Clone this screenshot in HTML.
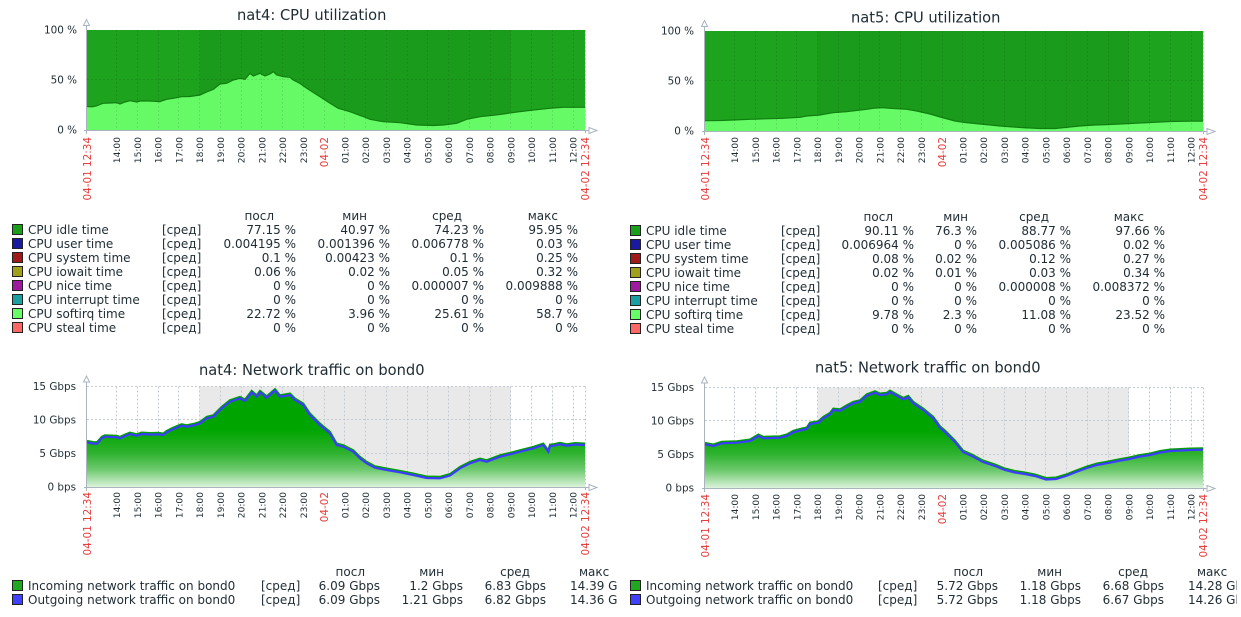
<!DOCTYPE html>
<html><head><meta charset="utf-8">
<style>
html,body{margin:0;padding:0;background:#fff;}
body{width:1241px;height:617px;overflow:hidden;}
svg{display:block;}
text{font-family:"DejaVu Sans","Liberation Sans",sans-serif;fill:#1f2c33;}
.t{font-size:14.67px;}
.yl{font-size:10.4px;text-anchor:end;}
.xl{font-size:9.1px;text-anchor:end;}
.xr{font-size:10.4px;text-anchor:end;fill:#e53e3e;}
.lg{font-size:12px;}
.r{text-anchor:end;}
.grid{fill:none;stroke:#c3cad1;stroke-width:1;stroke-dasharray:2,2;shape-rendering:crispEdges;}
.cgrid{fill:none;stroke:#000;stroke-opacity:0.1;stroke-width:1;stroke-dasharray:2,2;shape-rendering:crispEdges;}
.ax{fill:none;stroke:#a9b4bf;stroke-width:1;shape-rendering:crispEdges;}
.arr{fill:#fff;stroke:#a9b4bf;stroke-width:1;}
.sq{stroke:#222;stroke-width:1;shape-rendering:crispEdges;}
</style></head>
<body>
<svg width="1241" height="617" viewBox="0 0 1241 617" xmlns="http://www.w3.org/2000/svg">
<defs>
<clipPath id="cl"><rect x="0" y="0" width="618" height="617"/></clipPath>
<clipPath id="cr"><rect x="618" y="0" width="619" height="617"/></clipPath>
<linearGradient id="g4" gradientUnits="userSpaceOnUse" x1="0" y1="387" x2="0" y2="487">
<stop offset="0" stop-color="#00a300"/><stop offset="0.43" stop-color="#00a500"/><stop offset="0.66" stop-color="#2eb22e"/><stop offset="0.83" stop-color="#70ca70"/><stop offset="1" stop-color="#dcf3dc"/>
</linearGradient>
<linearGradient id="g5" gradientUnits="userSpaceOnUse" x1="0" y1="388" x2="0" y2="488">
<stop offset="0" stop-color="#00a300"/><stop offset="0.43" stop-color="#00a500"/><stop offset="0.66" stop-color="#2eb22e"/><stop offset="0.83" stop-color="#70ca70"/><stop offset="1" stop-color="#dcf3dc"/>
</linearGradient>
</defs>

<!-- ================= nat4 CPU ================= -->
<text class="t" x="237" y="20">nat4: CPU utilization</text>
<g transform="translate(87,130)">
<rect x="0" y="-100" width="498" height="100" fill="#1ea31e"/>
<rect x="112.74" y="-100" width="311.25" height="100" fill="#1b9b1b"/>
</g>
<polygon fill="#66fb66" points="87,130 87,106.5 92,106.8 96,106 100,104.5 103,103.3 110,103 116.7,102.7 120,104 125,102 130,100.7 136.7,102 140,101 150,101 160,101.7 163,100.5 166.7,99.3 173.3,98.3 181.7,96.7 190,96.5 200,95 206.7,92 213.3,89.3 220,84 226.7,83.3 233.3,80 240,78.3 245,79.3 250,73.3 253.3,76 260,73.3 265,76 270,74 273.3,71.7 276.7,75 283.3,76.7 290,77.3 293.3,80 300,83.5 306.7,88.3 313.3,92.5 320,96.7 330,103.3 338.3,108.3 350,111.7 361.7,116 370,119.3 383.3,121.7 400,122.7 416.7,125 433.3,125.5 443.3,125 456.7,123.3 466.7,119.3 480,116.7 493.3,115.3 503.3,114 516.7,112 533.3,110 550,108.3 563.3,107.3 573.3,107.3 585,107.3 585,130"/>
<polyline fill="none" stroke="#0f7f0f" stroke-width="1.2" points="87,106.5 92,106.8 96,106 100,104.5 103,103.3 110,103 116.7,102.7 120,104 125,102 130,100.7 136.7,102 140,101 150,101 160,101.7 163,100.5 166.7,99.3 173.3,98.3 181.7,96.7 190,96.5 200,95 206.7,92 213.3,89.3 220,84 226.7,83.3 233.3,80 240,78.3 245,79.3 250,73.3 253.3,76 260,73.3 265,76 270,74 273.3,71.7 276.7,75 283.3,76.7 290,77.3 293.3,80 300,83.5 306.7,88.3 313.3,92.5 320,96.7 330,103.3 338.3,108.3 350,111.7 361.7,116 370,119.3 383.3,121.7 400,122.7 416.7,125 433.3,125.5 443.3,125 456.7,123.3 466.7,119.3 480,116.7 493.3,115.3 503.3,114 516.7,112 533.3,110 550,108.3 563.3,107.3 573.3,107.3 585,107.3"/>
<g transform="translate(87,130)">
<path class="cgrid" d="M29.5,-100V0M50.5,-100V0M71.5,-100V0M91.5,-100V0M112.5,-100V0M133.5,-100V0M154.5,-100V0M174.5,-100V0M195.5,-100V0M216.5,-100V0M237.5,-100V0M257.5,-100V0M278.5,-100V0M299.5,-100V0M320.5,-100V0M340.5,-100V0M361.5,-100V0M382.5,-100V0M403.5,-100V0M423.5,-100V0M444.5,-100V0M465.5,-100V0M486.5,-100V0M0,-50.5H498"/>
<path class="grid" d="M498.5,-100V0"/>
<path class="ax" d="M-0.5,-105V4M-3,0.5H502M498.5,0V3"/>
<polygon class="arr" points="-3.5,-104.5 -0.5,-110.5 2.5,-104.5"/>
<polygon class="arr" points="502,-2.5 510,0.5 502,3.5"/>
</g>
<text class="yl" x="77" y="33.5">100 %</text>
<text class="yl" x="77" y="83.5">50 %</text>
<text class="yl" x="77" y="133.5">0 %</text>
<text class="xr" transform="translate(90.8,137) rotate(-90)">04-01 12:34</text>
<text class="xl" transform="translate(120.2,137) rotate(-90)">14:00</text>
<text class="xl" transform="translate(141,137) rotate(-90)">15:00</text>
<text class="xl" transform="translate(161.7,137) rotate(-90)">16:00</text>
<text class="xl" transform="translate(182.5,137) rotate(-90)">17:00</text>
<text class="xl" transform="translate(203.2,137) rotate(-90)">18:00</text>
<text class="xl" transform="translate(224,137) rotate(-90)">19:00</text>
<text class="xl" transform="translate(244.7,137) rotate(-90)">20:00</text>
<text class="xl" transform="translate(265.5,137) rotate(-90)">21:00</text>
<text class="xl" transform="translate(286.2,137) rotate(-90)">22:00</text>
<text class="xl" transform="translate(307,137) rotate(-90)">23:00</text>
<text class="xr" transform="translate(328,137) rotate(-90)">04-02</text>
<text class="xl" transform="translate(348.5,137) rotate(-90)">01:00</text>
<text class="xl" transform="translate(369.2,137) rotate(-90)">02:00</text>
<text class="xl" transform="translate(390,137) rotate(-90)">03:00</text>
<text class="xl" transform="translate(410.7,137) rotate(-90)">04:00</text>
<text class="xl" transform="translate(431.5,137) rotate(-90)">05:00</text>
<text class="xl" transform="translate(452.2,137) rotate(-90)">06:00</text>
<text class="xl" transform="translate(473,137) rotate(-90)">07:00</text>
<text class="xl" transform="translate(493.7,137) rotate(-90)">08:00</text>
<text class="xl" transform="translate(514.5,137) rotate(-90)">09:00</text>
<text class="xl" transform="translate(535.2,137) rotate(-90)">10:00</text>
<text class="xl" transform="translate(556,137) rotate(-90)">11:00</text>
<text class="xl" transform="translate(576.7,137) rotate(-90)">12:00</text>
<text class="xr" transform="translate(588.8,137) rotate(-90)">04-02 12:34</text>

<!-- nat4 CPU legend -->
<g class="lg">
<text class="lg r" x="274" y="220">посл</text>
<text class="lg r" x="367" y="220">мин</text>
<text class="lg r" x="462" y="220">сред</text>
<text class="lg r" x="558" y="220">макс</text>

<rect class="sq" x="12.5" y="224.5" width="10" height="10" fill="#1a9f1a"/>
<text class="lg" x="28" y="234">CPU idle time</text><text class="lg" x="162" y="234">[сред]</text>
<text class="lg r" x="296" y="234">77.15 %</text><text class="lg r" x="390" y="234">40.97 %</text><text class="lg r" x="484" y="234">74.23 %</text><text class="lg r" x="578" y="234">95.95 %</text>

<rect class="sq" x="12.5" y="238.5" width="10" height="10" fill="#1a1aa0"/>
<text class="lg" x="28" y="248">CPU user time</text><text class="lg" x="162" y="248">[сред]</text>
<text class="lg r" x="296" y="248">0.004195 %</text><text class="lg r" x="390" y="248">0.001396 %</text><text class="lg r" x="484" y="248">0.006778 %</text><text class="lg r" x="578" y="248">0.03 %</text>

<rect class="sq" x="12.5" y="252.5" width="10" height="10" fill="#a01a1a"/>
<text class="lg" x="28" y="262">CPU system time</text><text class="lg" x="162" y="262">[сред]</text>
<text class="lg r" x="296" y="262">0.1 %</text><text class="lg r" x="390" y="262">0.00423 %</text><text class="lg r" x="484" y="262">0.1 %</text><text class="lg r" x="578" y="262">0.25 %</text>

<rect class="sq" x="12.5" y="266.5" width="10" height="10" fill="#a0a01a"/>
<text class="lg" x="28" y="276">CPU iowait time</text><text class="lg" x="162" y="276">[сред]</text>
<text class="lg r" x="296" y="276">0.06 %</text><text class="lg r" x="390" y="276">0.02 %</text><text class="lg r" x="484" y="276">0.05 %</text><text class="lg r" x="578" y="276">0.32 %</text>

<rect class="sq" x="12.5" y="280.5" width="10" height="10" fill="#a01aa0"/>
<text class="lg" x="28" y="290">CPU nice time</text><text class="lg" x="162" y="290">[сред]</text>
<text class="lg r" x="296" y="290">0 %</text><text class="lg r" x="390" y="290">0 %</text><text class="lg r" x="484" y="290">0.000007 %</text><text class="lg r" x="578" y="290">0.009888 %</text>

<rect class="sq" x="12.5" y="294.5" width="10" height="10" fill="#1aa0a0"/>
<text class="lg" x="28" y="304">CPU interrupt time</text><text class="lg" x="162" y="304">[сред]</text>
<text class="lg r" x="296" y="304">0 %</text><text class="lg r" x="390" y="304">0 %</text><text class="lg r" x="484" y="304">0 %</text><text class="lg r" x="578" y="304">0 %</text>

<rect class="sq" x="12.5" y="308.5" width="10" height="10" fill="#66ff66"/>
<text class="lg" x="28" y="318">CPU softirq time</text><text class="lg" x="162" y="318">[сред]</text>
<text class="lg r" x="296" y="318">22.72 %</text><text class="lg r" x="390" y="318">3.96 %</text><text class="lg r" x="484" y="318">25.61 %</text><text class="lg r" x="578" y="318">58.7 %</text>

<rect class="sq" x="12.5" y="322.5" width="10" height="10" fill="#ff6666"/>
<text class="lg" x="28" y="332">CPU steal time</text><text class="lg" x="162" y="332">[сред]</text>
<text class="lg r" x="296" y="332">0 %</text><text class="lg r" x="390" y="332">0 %</text><text class="lg r" x="484" y="332">0 %</text><text class="lg r" x="578" y="332">0 %</text>
</g>

<!-- ================= nat5 CPU ================= -->
<text class="t" x="851" y="22.5">nat5: CPU utilization</text>
<g transform="translate(705,131)">
<rect x="0" y="-100" width="498" height="100" fill="#1ea31e"/>
<rect x="112.74" y="-100" width="311.25" height="100" fill="#1b9b1b"/>
</g>
<polygon fill="#66fb66" points="705,131 705,120.7 720,120.5 733,120 750,119.3 783,118.3 800,117.3 806.7,116 820,115 833,112.7 846.7,111.7 866.7,109.3 873,108.3 882,107.7 890,108.3 906.7,109.3 916.7,111 930,114 942,117.5 955,121 965,122.5 980,124 1000,126 1020,127.5 1040,128.5 1055,128.5 1065,127.5 1080,126 1095,125 1110,124.5 1130,123.5 1150,122.5 1170,121.5 1190,121.2 1203,121.2 1203,131"/>
<polyline fill="none" stroke="#0f7f0f" stroke-width="1.2" points="705,120.7 720,120.5 733,120 750,119.3 783,118.3 800,117.3 806.7,116 820,115 833,112.7 846.7,111.7 866.7,109.3 873,108.3 882,107.7 890,108.3 906.7,109.3 916.7,111 930,114 942,117.5 955,121 965,122.5 980,124 1000,126 1020,127.5 1040,128.5 1055,128.5 1065,127.5 1080,126 1095,125 1110,124.5 1130,123.5 1150,122.5 1170,121.5 1190,121.2 1203,121.2"/>
<g transform="translate(705,131)">
<path class="cgrid" d="M29.5,-100V0M50.5,-100V0M71.5,-100V0M91.5,-100V0M112.5,-100V0M133.5,-100V0M154.5,-100V0M174.5,-100V0M195.5,-100V0M216.5,-100V0M237.5,-100V0M257.5,-100V0M278.5,-100V0M299.5,-100V0M320.5,-100V0M340.5,-100V0M361.5,-100V0M382.5,-100V0M403.5,-100V0M423.5,-100V0M444.5,-100V0M465.5,-100V0M486.5,-100V0M0,-50.5H498"/>
<path class="grid" d="M498.5,-100V0"/>
<path class="ax" d="M-0.5,-105V4M-3,0.5H502M498.5,0V3"/>
<polygon class="arr" points="-3.5,-104.5 -0.5,-110.5 2.5,-104.5"/>
<polygon class="arr" points="502,-2.5 510,0.5 502,3.5"/>
</g>
<text class="yl" x="694" y="34.5">100 %</text>
<text class="yl" x="694" y="84.5">50 %</text>
<text class="yl" x="694" y="134.5">0 %</text>
<text class="xr" transform="translate(708.8,137) rotate(-90)">04-01 12:34</text>
<text class="xl" transform="translate(738.2,137) rotate(-90)">14:00</text>
<text class="xl" transform="translate(759,137) rotate(-90)">15:00</text>
<text class="xl" transform="translate(779.7,137) rotate(-90)">16:00</text>
<text class="xl" transform="translate(800.5,137) rotate(-90)">17:00</text>
<text class="xl" transform="translate(821.2,137) rotate(-90)">18:00</text>
<text class="xl" transform="translate(842,137) rotate(-90)">19:00</text>
<text class="xl" transform="translate(862.7,137) rotate(-90)">20:00</text>
<text class="xl" transform="translate(883.5,137) rotate(-90)">21:00</text>
<text class="xl" transform="translate(904.2,137) rotate(-90)">22:00</text>
<text class="xl" transform="translate(925,137) rotate(-90)">23:00</text>
<text class="xr" transform="translate(946,137) rotate(-90)">04-02</text>
<text class="xl" transform="translate(966.5,137) rotate(-90)">01:00</text>
<text class="xl" transform="translate(987.2,137) rotate(-90)">02:00</text>
<text class="xl" transform="translate(1008,137) rotate(-90)">03:00</text>
<text class="xl" transform="translate(1028.7,137) rotate(-90)">04:00</text>
<text class="xl" transform="translate(1049.5,137) rotate(-90)">05:00</text>
<text class="xl" transform="translate(1070.2,137) rotate(-90)">06:00</text>
<text class="xl" transform="translate(1091,137) rotate(-90)">07:00</text>
<text class="xl" transform="translate(1111.7,137) rotate(-90)">08:00</text>
<text class="xl" transform="translate(1132.5,137) rotate(-90)">09:00</text>
<text class="xl" transform="translate(1153.2,137) rotate(-90)">10:00</text>
<text class="xl" transform="translate(1174,137) rotate(-90)">11:00</text>
<text class="xl" transform="translate(1194.7,137) rotate(-90)">12:00</text>
<text class="xr" transform="translate(1206.8,137) rotate(-90)">04-02 12:34</text>

<!-- nat5 CPU legend -->
<g>
<text class="lg r" x="893" y="221">посл</text>
<text class="lg r" x="968" y="221">мин</text>
<text class="lg r" x="1049" y="221">сред</text>
<text class="lg r" x="1144" y="221">макс</text>

<rect class="sq" x="630.5" y="225.5" width="10" height="10" fill="#1a9f1a"/>
<text class="lg" x="646" y="235">CPU idle time</text><text class="lg" x="781" y="235">[сред]</text>
<text class="lg r" x="914" y="235">90.11 %</text><text class="lg r" x="977" y="235">76.3 %</text><text class="lg r" x="1071" y="235">88.77 %</text><text class="lg r" x="1165" y="235">97.66 %</text>

<rect class="sq" x="630.5" y="239.5" width="10" height="10" fill="#1a1aa0"/>
<text class="lg" x="646" y="249">CPU user time</text><text class="lg" x="781" y="249">[сред]</text>
<text class="lg r" x="914" y="249">0.006964 %</text><text class="lg r" x="977" y="249">0 %</text><text class="lg r" x="1071" y="249">0.005086 %</text><text class="lg r" x="1165" y="249">0.02 %</text>

<rect class="sq" x="630.5" y="253.5" width="10" height="10" fill="#a01a1a"/>
<text class="lg" x="646" y="263">CPU system time</text><text class="lg" x="781" y="263">[сред]</text>
<text class="lg r" x="914" y="263">0.08 %</text><text class="lg r" x="977" y="263">0.02 %</text><text class="lg r" x="1071" y="263">0.12 %</text><text class="lg r" x="1165" y="263">0.27 %</text>

<rect class="sq" x="630.5" y="267.5" width="10" height="10" fill="#a0a01a"/>
<text class="lg" x="646" y="277">CPU iowait time</text><text class="lg" x="781" y="277">[сред]</text>
<text class="lg r" x="914" y="277">0.02 %</text><text class="lg r" x="977" y="277">0.01 %</text><text class="lg r" x="1071" y="277">0.03 %</text><text class="lg r" x="1165" y="277">0.34 %</text>

<rect class="sq" x="630.5" y="281.5" width="10" height="10" fill="#a01aa0"/>
<text class="lg" x="646" y="291">CPU nice time</text><text class="lg" x="781" y="291">[сред]</text>
<text class="lg r" x="914" y="291">0 %</text><text class="lg r" x="977" y="291">0 %</text><text class="lg r" x="1071" y="291">0.000008 %</text><text class="lg r" x="1165" y="291">0.008372 %</text>

<rect class="sq" x="630.5" y="295.5" width="10" height="10" fill="#1aa0a0"/>
<text class="lg" x="646" y="305">CPU interrupt time</text><text class="lg" x="781" y="305">[сред]</text>
<text class="lg r" x="914" y="305">0 %</text><text class="lg r" x="977" y="305">0 %</text><text class="lg r" x="1071" y="305">0 %</text><text class="lg r" x="1165" y="305">0 %</text>

<rect class="sq" x="630.5" y="309.5" width="10" height="10" fill="#66ff66"/>
<text class="lg" x="646" y="319">CPU softirq time</text><text class="lg" x="781" y="319">[сред]</text>
<text class="lg r" x="914" y="319">9.78 %</text><text class="lg r" x="977" y="319">2.3 %</text><text class="lg r" x="1071" y="319">11.08 %</text><text class="lg r" x="1165" y="319">23.52 %</text>

<rect class="sq" x="630.5" y="323.5" width="10" height="10" fill="#ff6666"/>
<text class="lg" x="646" y="333">CPU steal time</text><text class="lg" x="781" y="333">[сред]</text>
<text class="lg r" x="914" y="333">0 %</text><text class="lg r" x="977" y="333">0 %</text><text class="lg r" x="1071" y="333">0 %</text><text class="lg r" x="1165" y="333">0 %</text>
</g>

<!-- ================= nat4 Network ================= -->
<text class="t" x="199" y="375">nat4: Network traffic on bond0</text>
<g transform="translate(87,487)">
<rect x="0" y="-100.5" width="498" height="100.5" fill="#fff"/>
<rect x="112.74" y="-100.5" width="311.25" height="100.5" fill="#e9e9e9"/>
<path class="grid" d="M29.5,-100.5V0M50.5,-100.5V0M71.5,-100.5V0M91.5,-100.5V0M112.5,-100.5V0M133.5,-100.5V0M154.5,-100.5V0M174.5,-100.5V0M195.5,-100.5V0M216.5,-100.5V0M237.5,-100.5V0M257.5,-100.5V0M278.5,-100.5V0M299.5,-100.5V0M320.5,-100.5V0M340.5,-100.5V0M361.5,-100.5V0M382.5,-100.5V0M403.5,-100.5V0M423.5,-100.5V0M444.5,-100.5V0M465.5,-100.5V0M486.5,-100.5V0M498.5,-100.5V0M0,-100.5H498M0,-67.5H498M0,-33.5H498"/>
</g>
<polygon fill="url(#g4)" points="87,487 87,442.3 93,443.5 97,443.7 101.7,438.3 105,436.7 116.7,437.3 120,438.3 125,436 130,434 136.7,435.7 141.7,434 150,434.5 158.3,434.3 163.3,435 166.7,432.3 173.3,429 181.7,425.7 186.7,426.7 195,425 200,423.3 206.7,418.3 213.3,416.7 221.7,408.3 230,401.7 240,398.3 245,401 251.7,392.3 256.7,396.7 260,392.3 266.7,397.7 275,390.5 280,396.7 290,395 295,400 303.3,405 310,415 320,425 330,433.3 336.7,445 343.3,446.7 353.3,451.7 360,458.3 366.7,463.3 375,467.7 386.7,470 400,472.3 413.3,475 426.7,478 440,478.3 450,475.5 460,468.3 470,463.3 480,460 486.7,461.7 500,456.7 510,454.3 520,451.7 533.3,448.3 543.3,445 548.3,451.7 550,446 553.3,445.7 560,444.3 566.7,445.7 575,444.5 585,445 585,487"/>
<polyline fill="none" stroke="#00a000" stroke-width="2" transform="translate(0,-1.5)" points="87,442.3 93,443.5 97,443.7 101.7,438.3 105,436.7 116.7,437.3 120,438.3 125,436 130,434 136.7,435.7 141.7,434 150,434.5 158.3,434.3 163.3,435 166.7,432.3 173.3,429 181.7,425.7 186.7,426.7 195,425 200,423.3 206.7,418.3 213.3,416.7 221.7,408.3 230,401.7 240,398.3 245,401 251.7,392.3 256.7,396.7 260,392.3 266.7,397.7 275,390.5 280,396.7 290,395 295,400 303.3,405 310,415 320,425 330,433.3 336.7,445 343.3,446.7 353.3,451.7 360,458.3 366.7,463.3 375,467.7 386.7,470 400,472.3 413.3,475 426.7,478 440,478.3 450,475.5 460,468.3 470,463.3 480,460 486.7,461.7 500,456.7 510,454.3 520,451.7 533.3,448.3 543.3,445 548.3,451.7 550,446 553.3,445.7 560,444.3 566.7,445.7 575,444.5 585,445"/>
<polyline fill="none" stroke="#3c3cff" stroke-width="2.2" points="87,442.3 93,443.5 97,443.7 101.7,438.3 105,436.7 116.7,437.3 120,438.3 125,436 130,434 136.7,435.7 141.7,434 150,434.5 158.3,434.3 163.3,435 166.7,432.3 173.3,429 181.7,425.7 186.7,426.7 195,425 200,423.3 206.7,418.3 213.3,416.7 221.7,408.3 230,401.7 240,398.3 245,401 251.7,392.3 256.7,396.7 260,392.3 266.7,397.7 275,390.5 280,396.7 290,395 295,400 303.3,405 310,415 320,425 330,433.3 336.7,445 343.3,446.7 353.3,451.7 360,458.3 366.7,463.3 375,467.7 386.7,470 400,472.3 413.3,475 426.7,478 440,478.3 450,475.5 460,468.3 470,463.3 480,460 486.7,461.7 500,456.7 510,454.3 520,451.7 533.3,448.3 543.3,445 548.3,451.7 550,446 553.3,445.7 560,444.3 566.7,445.7 575,444.5 585,445"/>
<g transform="translate(87,487)">
<path class="ax" d="M-0.5,-105V4M-3,0.5H502M498.5,0V3"/>
<polygon class="arr" points="-3.5,-105 -0.5,-111 2.5,-105"/>
<polygon class="arr" points="502,-2.5 510,0.5 502,3.5"/>
</g>
<text class="yl" x="76" y="390">15 Gbps</text>
<text class="yl" x="76" y="423.5">10 Gbps</text>
<text class="yl" x="76" y="457">5 Gbps</text>
<text class="yl" x="76" y="490.5">0 bps</text>
<text class="xr" transform="translate(90.8,492) rotate(-90)">04-01 12:34</text>
<text class="xl" transform="translate(120.2,492) rotate(-90)">14:00</text>
<text class="xl" transform="translate(141,492) rotate(-90)">15:00</text>
<text class="xl" transform="translate(161.7,492) rotate(-90)">16:00</text>
<text class="xl" transform="translate(182.5,492) rotate(-90)">17:00</text>
<text class="xl" transform="translate(203.2,492) rotate(-90)">18:00</text>
<text class="xl" transform="translate(224,492) rotate(-90)">19:00</text>
<text class="xl" transform="translate(244.7,492) rotate(-90)">20:00</text>
<text class="xl" transform="translate(265.5,492) rotate(-90)">21:00</text>
<text class="xl" transform="translate(286.2,492) rotate(-90)">22:00</text>
<text class="xl" transform="translate(307,492) rotate(-90)">23:00</text>
<text class="xr" transform="translate(328,492) rotate(-90)">04-02</text>
<text class="xl" transform="translate(348.5,492) rotate(-90)">01:00</text>
<text class="xl" transform="translate(369.2,492) rotate(-90)">02:00</text>
<text class="xl" transform="translate(390,492) rotate(-90)">03:00</text>
<text class="xl" transform="translate(410.7,492) rotate(-90)">04:00</text>
<text class="xl" transform="translate(431.5,492) rotate(-90)">05:00</text>
<text class="xl" transform="translate(452.2,492) rotate(-90)">06:00</text>
<text class="xl" transform="translate(473,492) rotate(-90)">07:00</text>
<text class="xl" transform="translate(493.7,492) rotate(-90)">08:00</text>
<text class="xl" transform="translate(514.5,492) rotate(-90)">09:00</text>
<text class="xl" transform="translate(535.2,492) rotate(-90)">10:00</text>
<text class="xl" transform="translate(556,492) rotate(-90)">11:00</text>
<text class="xl" transform="translate(576.7,492) rotate(-90)">12:00</text>
<text class="xr" transform="translate(588.8,492) rotate(-90)">04-02 12:34</text>

<!-- nat4 Network legend -->
<g clip-path="url(#cl)">
<text class="lg r" x="365" y="576">посл</text>
<text class="lg r" x="444" y="576">мин</text>
<text class="lg r" x="530" y="576">сред</text>
<text class="lg" x="579" y="576">макс</text>
<rect class="sq" x="12.5" y="580.5" width="10" height="10" fill="#1fa81f"/>
<text class="lg" x="28" y="590">Incoming network traffic on bond0</text><text class="lg" x="261" y="590">[сред]</text>
<text class="lg r" x="380" y="590">6.09 Gbps</text><text class="lg r" x="463" y="590">1.2 Gbps</text><text class="lg r" x="546" y="590">6.83 Gbps</text><text class="lg" x="570" y="590">14.39 Gbps</text>
<rect class="sq" x="12.5" y="594.5" width="10" height="10" fill="#4040ff"/>
<text class="lg" x="28" y="604">Outgoing network traffic on bond0</text><text class="lg" x="261" y="604">[сред]</text>
<text class="lg r" x="380" y="604">6.09 Gbps</text><text class="lg r" x="463" y="604">1.21 Gbps</text><text class="lg r" x="546" y="604">6.82 Gbps</text><text class="lg" x="570" y="604">14.36 Gbps</text>
</g>

<!-- ================= nat5 Network ================= -->
<text class="t" x="815" y="372.3">nat5: Network traffic on bond0</text>
<g transform="translate(705,488)">
<rect x="0" y="-100.5" width="498" height="100.5" fill="#fff"/>
<rect x="112.74" y="-100.5" width="311.25" height="100.5" fill="#e9e9e9"/>
<path class="grid" d="M29.5,-100.5V0M50.5,-100.5V0M71.5,-100.5V0M91.5,-100.5V0M112.5,-100.5V0M133.5,-100.5V0M154.5,-100.5V0M174.5,-100.5V0M195.5,-100.5V0M216.5,-100.5V0M237.5,-100.5V0M257.5,-100.5V0M278.5,-100.5V0M299.5,-100.5V0M320.5,-100.5V0M340.5,-100.5V0M361.5,-100.5V0M382.5,-100.5V0M403.5,-100.5V0M423.5,-100.5V0M444.5,-100.5V0M465.5,-100.5V0M486.5,-100.5V0M498.5,-100.5V0M0,-100.5H498M0,-67.5H498M0,-33.5H498"/>
</g>
<polygon fill="url(#g5)" points="705,488 705,444.3 713.3,446 721.7,443.3 736.7,442.7 750,441 753.3,439 758.3,436 763.3,438.3 780,437.7 786.7,436 793.3,432.3 801.7,430 806.7,429 810,424 818.3,422.7 823.3,418.3 830,414.3 833.3,410 840,410.7 846.7,406.7 853.3,403.3 860,401.7 866.7,395.7 875,392.7 880,395 886.7,394.3 890,392 896.7,395.7 903.3,399.3 908.3,397.3 913.3,403.3 923.3,410 933.3,418.3 940,427.7 945,432 955,442 963,452 972,456 983,462 995,466 1005,470 1015,472.5 1025,474 1035,476 1046,479.5 1056,479 1066,476 1076,472 1087,468 1097,465 1108,463 1118,461 1129,459 1140,456.5 1150,455 1160,452.5 1170,451 1180,450.5 1190,450 1203,449.7 1203,488"/>
<polyline fill="none" stroke="#00a000" stroke-width="2" transform="translate(0,-1.5)" points="705,444.3 713.3,446 721.7,443.3 736.7,442.7 750,441 753.3,439 758.3,436 763.3,438.3 780,437.7 786.7,436 793.3,432.3 801.7,430 806.7,429 810,424 818.3,422.7 823.3,418.3 830,414.3 833.3,410 840,410.7 846.7,406.7 853.3,403.3 860,401.7 866.7,395.7 875,392.7 880,395 886.7,394.3 890,392 896.7,395.7 903.3,399.3 908.3,397.3 913.3,403.3 923.3,410 933.3,418.3 940,427.7 945,432 955,442 963,452 972,456 983,462 995,466 1005,470 1015,472.5 1025,474 1035,476 1046,479.5 1056,479 1066,476 1076,472 1087,468 1097,465 1108,463 1118,461 1129,459 1140,456.5 1150,455 1160,452.5 1170,451 1180,450.5 1190,450 1203,449.7"/>
<polyline fill="none" stroke="#3c3cff" stroke-width="2.2" points="705,444.3 713.3,446 721.7,443.3 736.7,442.7 750,441 753.3,439 758.3,436 763.3,438.3 780,437.7 786.7,436 793.3,432.3 801.7,430 806.7,429 810,424 818.3,422.7 823.3,418.3 830,414.3 833.3,410 840,410.7 846.7,406.7 853.3,403.3 860,401.7 866.7,395.7 875,392.7 880,395 886.7,394.3 890,392 896.7,395.7 903.3,399.3 908.3,397.3 913.3,403.3 923.3,410 933.3,418.3 940,427.7 945,432 955,442 963,452 972,456 983,462 995,466 1005,470 1015,472.5 1025,474 1035,476 1046,479.5 1056,479 1066,476 1076,472 1087,468 1097,465 1108,463 1118,461 1129,459 1140,456.5 1150,455 1160,452.5 1170,451 1180,450.5 1190,450 1203,449.7"/>
<g transform="translate(705,488)">
<path class="ax" d="M-0.5,-105V4M-3,0.5H502M498.5,0V3"/>
<polygon class="arr" points="-3.5,-105 -0.5,-111 2.5,-105"/>
<polygon class="arr" points="502,-2.5 510,0.5 502,3.5"/>
</g>
<text class="yl" x="694" y="391">15 Gbps</text>
<text class="yl" x="694" y="424.5">10 Gbps</text>
<text class="yl" x="694" y="458">5 Gbps</text>
<text class="yl" x="694" y="491.5">0 bps</text>
<text class="xr" transform="translate(708.8,494) rotate(-90)">04-01 12:34</text>
<text class="xl" transform="translate(738.2,494) rotate(-90)">14:00</text>
<text class="xl" transform="translate(759,494) rotate(-90)">15:00</text>
<text class="xl" transform="translate(779.7,494) rotate(-90)">16:00</text>
<text class="xl" transform="translate(800.5,494) rotate(-90)">17:00</text>
<text class="xl" transform="translate(821.2,494) rotate(-90)">18:00</text>
<text class="xl" transform="translate(842,494) rotate(-90)">19:00</text>
<text class="xl" transform="translate(862.7,494) rotate(-90)">20:00</text>
<text class="xl" transform="translate(883.5,494) rotate(-90)">21:00</text>
<text class="xl" transform="translate(904.2,494) rotate(-90)">22:00</text>
<text class="xl" transform="translate(925,494) rotate(-90)">23:00</text>
<text class="xr" transform="translate(946,494) rotate(-90)">04-02</text>
<text class="xl" transform="translate(966.5,494) rotate(-90)">01:00</text>
<text class="xl" transform="translate(987.2,494) rotate(-90)">02:00</text>
<text class="xl" transform="translate(1008,494) rotate(-90)">03:00</text>
<text class="xl" transform="translate(1028.7,494) rotate(-90)">04:00</text>
<text class="xl" transform="translate(1049.5,494) rotate(-90)">05:00</text>
<text class="xl" transform="translate(1070.2,494) rotate(-90)">06:00</text>
<text class="xl" transform="translate(1091,494) rotate(-90)">07:00</text>
<text class="xl" transform="translate(1111.7,494) rotate(-90)">08:00</text>
<text class="xl" transform="translate(1132.5,494) rotate(-90)">09:00</text>
<text class="xl" transform="translate(1153.2,494) rotate(-90)">10:00</text>
<text class="xl" transform="translate(1174,494) rotate(-90)">11:00</text>
<text class="xl" transform="translate(1194.7,494) rotate(-90)">12:00</text>
<text class="xr" transform="translate(1206.8,494) rotate(-90)">04-02 12:34</text>

<!-- nat5 Network legend -->
<g clip-path="url(#cr)">
<text class="lg r" x="983" y="576">посл</text>
<text class="lg r" x="1062" y="576">мин</text>
<text class="lg r" x="1148" y="576">сред</text>
<text class="lg" x="1197" y="576">макс</text>
<rect class="sq" x="630.5" y="580.5" width="10" height="10" fill="#1fa81f"/>
<text class="lg" x="646" y="590">Incoming network traffic on bond0</text><text class="lg" x="878" y="590">[сред]</text>
<text class="lg r" x="998" y="590">5.72 Gbps</text><text class="lg r" x="1081" y="590">1.18 Gbps</text><text class="lg r" x="1164" y="590">6.68 Gbps</text><text class="lg" x="1188" y="590">14.28 Gbps</text>
<rect class="sq" x="630.5" y="594.5" width="10" height="10" fill="#4040ff"/>
<text class="lg" x="646" y="604">Outgoing network traffic on bond0</text><text class="lg" x="878" y="604">[сред]</text>
<text class="lg r" x="998" y="604">5.72 Gbps</text><text class="lg r" x="1081" y="604">1.18 Gbps</text><text class="lg r" x="1164" y="604">6.67 Gbps</text><text class="lg" x="1188" y="604">14.26 Gbps</text>
</g>
</svg>
</body></html>
